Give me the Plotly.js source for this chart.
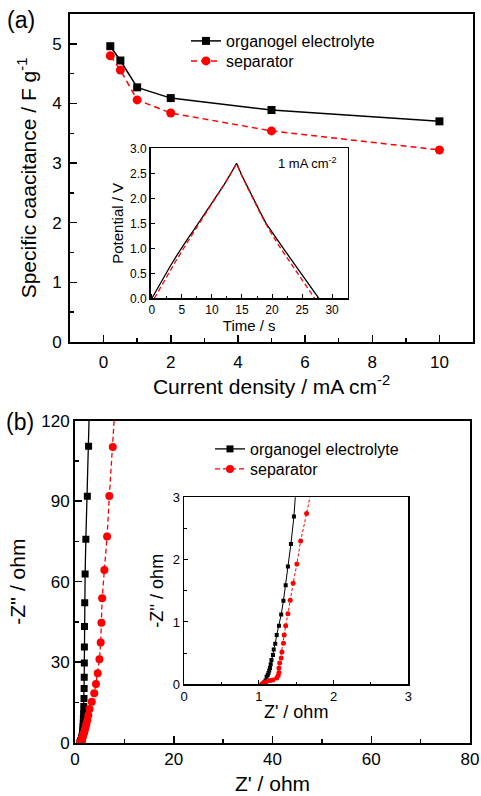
<!DOCTYPE html>
<html>
<head>
<meta charset="utf-8">
<script src="https://cdn.plot.ly/plotly-3.0.1.min.js"></script>
<style>html,body{margin:0;padding:0;background:#fff;}#chart{width:481px;height:796px;}</style>
</head>
<body>
<div id="chart"></div>
<script>
// ---- Panel (a): specific capacitance vs current density ----
const currentDensity = [0.2, 0.5, 1, 2, 5, 10];
const capOrganogel = [4.96, 4.72, 4.27, 4.09, 3.89, 3.70];
const capSeparator = [4.80, 4.56, 4.06, 3.84, 3.54, 3.22];

// ---- Panel (a) inset: galvanostatic charge/discharge at 1 mA cm-2 ----
const gcdTimeOrganogel = [0, 1, 2, 3, 4, 5, 6, 7, 8, 9, 10, 11, 12, 13, 14.1, 15, 16, 17, 18, 19, 20, 21, 22, 23, 24, 25, 26, 27, 27.8];
const gcdVOrganogel = [0, 0.22, 0.43, 0.63, 0.83, 1.02, 1.20, 1.37, 1.55, 1.72, 1.90, 2.08, 2.27, 2.47, 2.70, 2.45, 2.20, 1.96, 1.73, 1.50, 1.32, 1.15, 0.98, 0.81, 0.64, 0.47, 0.31, 0.14, 0];
const gcdTimeSeparator = [0.4, 1, 2, 3, 4, 5, 6, 7, 8, 9, 10, 11, 12, 13, 14.1, 15, 16, 17, 18, 19, 20, 21, 22, 23, 24, 25, 26, 27.1];
const gcdVSeparator = [0, 0.12, 0.33, 0.54, 0.75, 0.95, 1.14, 1.33, 1.52, 1.70, 1.89, 2.08, 2.27, 2.47, 2.69, 2.44, 2.19, 1.95, 1.71, 1.48, 1.27, 1.08, 0.90, 0.72, 0.54, 0.36, 0.19, 0];

// ---- Panel (b): Nyquist plots ----
const zReOrganogel = [1.04, 1.07, 1.09, 1.105, 1.12, 1.13, 1.14, 1.15, 1.16, 1.17, 1.19, 1.20, 1.22, 1.24, 1.27, 1.30, 1.33, 1.36, 1.39, 1.43, 1.47, 1.52, 1.56, 1.60, 1.63, 1.67, 1.70, 1.74, 1.78, 1.82, 1.85, 1.87, 1.89, 1.90, 1.92, 1.97, 2.05, 2.20, 2.50, 2.75, 3.00];
const zImOrganogel = [0, 0.03, 0.06, 0.12, 0.15, 0.18, 0.22, 0.26, 0.32, 0.39, 0.47, 0.56, 0.65, 0.79, 0.94, 1.12, 1.34, 1.59, 1.89, 2.25, 2.69, 3.3, 4.0, 4.9, 6.0, 7.3, 8.9, 10.9, 13.5, 16.5, 20.2, 24.4, 29.7, 35.7, 43.3, 52.2, 62.9, 75.8, 91.8, 110.5, 131];
const zReSeparator = [1.04, 1.06, 1.10, 1.15, 1.19, 1.24, 1.26, 1.27, 1.27, 1.28, 1.30, 1.31, 1.33, 1.34, 1.36, 1.39, 1.42, 1.46, 1.51, 1.56, 1.64, 1.75, 1.88, 2.00, 2.15, 2.30, 2.50, 2.70, 2.95, 3.40, 3.90, 4.25, 4.60, 4.95, 5.20, 5.35, 5.50, 5.95, 6.50, 6.95, 7.65, 8.30];
const zImSeparator = [0, 0.02, 0.04, 0.06, 0.07, 0.10, 0.14, 0.19, 0.26, 0.34, 0.42, 0.52, 0.66, 0.79, 0.94, 1.13, 1.35, 1.62, 1.93, 2.30, 2.74, 3.3, 4.0, 4.8, 5.8, 7.0, 8.4, 10.2, 12.6, 15.3, 18.4, 21.9, 25.9, 31.1, 37.3, 44.7, 53.8, 64.4, 76.8, 91.9, 110.2, 131];

const seriesNames = ['organogel electrolyte', 'separator'];

const W = 481, H = 796;
const px = v => v / W;
const py = v => 1 - v / H;
const FONT = '"Liberation Sans", Arial, sans-serif';
const BLACK = '#000000', RED = '#ff0000';

const traces = [
  // (a) main
  {x: currentDensity, y: capOrganogel, xaxis: 'x', yaxis: 'y', name: seriesNames[0], mode: 'lines+markers',
   line: {color: BLACK, width: 1.5}, marker: {symbol: 'square', size: 8, color: BLACK}, legend: 'legend'},
  {x: currentDensity, y: capSeparator, xaxis: 'x', yaxis: 'y', name: seriesNames[1], mode: 'lines+markers',
   line: {color: RED, width: 1.5, dash: '6px,4px'}, marker: {symbol: 'circle', size: 9, color: RED}, legend: 'legend2'},
  // (a) inset
  {x: gcdTimeOrganogel, y: gcdVOrganogel, xaxis: 'x2', yaxis: 'y2', mode: 'lines', showlegend: false,
   line: {color: BLACK, width: 1.3}},
  {x: gcdTimeSeparator, y: gcdVSeparator, xaxis: 'x2', yaxis: 'y2', mode: 'lines', showlegend: false,
   line: {color: RED, width: 1.3, dash: '5px,3px'}},
  // (b) main
  {x: zReOrganogel, y: zImOrganogel, xaxis: 'x3', yaxis: 'y3', name: seriesNames[0], mode: 'lines+markers',
   line: {color: BLACK, width: 1.3}, marker: {symbol: 'square', size: 7, color: BLACK}, legend: 'legend3'},
  {x: zReSeparator, y: zImSeparator, xaxis: 'x3', yaxis: 'y3', name: seriesNames[1], mode: 'lines+markers',
   line: {color: RED, width: 1.3, dash: '5px,3px'}, marker: {symbol: 'circle', size: 8, color: RED}, legend: 'legend4'},
  // (b) inset
  {x: zReOrganogel, y: zImOrganogel, xaxis: 'x4', yaxis: 'y4', mode: 'lines+markers', showlegend: false,
   line: {color: BLACK, width: 1}, marker: {symbol: 'square', size: 4, color: BLACK}},
  {x: zReSeparator, y: zImSeparator, xaxis: 'x4', yaxis: 'y4', mode: 'lines+markers', showlegend: false,
   line: {color: RED, width: 1, dash: '3px,2px'}, marker: {symbol: 'circle', size: 5, color: RED}}
];

function ax(opts) {
  const base = {
    showline: true, linecolor: '#000', linewidth: 2, mirror: true,
    ticks: 'inside', ticklen: 7, tickwidth: 1.5, tickcolor: '#000',
    showgrid: false, zeroline: false, autorange: false, fixedrange: true,
    tickfont: {family: FONT, size: 17, color: '#000'}
  };
  return Object.assign(base, opts);
}
const minorMain = d => ({ticks: 'inside', ticklen: 4, tickwidth: 1.5, tickcolor: '#000', dtick: d, showgrid: false});
const minorInset = d => ({ticks: 'inside', ticklen: 2.5, tickwidth: 1, tickcolor: '#000', dtick: d, showgrid: false});

function leg(x, yTop) {
  return {x: px(x), y: py(yTop), xanchor: 'left', yanchor: 'top', bgcolor: 'rgba(0,0,0,0)',
    font: {family: FONT, size: 16, color: '#000'}, itemwidth: 30, tracegroupgap: 0};
}

const layout = {
  width: W, height: H,
  margin: {l: 0, r: 0, t: 0, b: 0},
  paper_bgcolor: '#fff', plot_bgcolor: 'rgba(0,0,0,0)',
  font: {family: FONT, color: '#000'},
  xaxis: ax({domain: [px(70), px(473)], range: [-1, 11], anchor: 'y', dtick: 2, tick0: 0,
    ticklabelstandoff: 4, minor: minorMain(1),
    title: {text: 'Current density / mA cm<sup>-2</sup>', font: {family: FONT, size: 21}, standoff: 6}}),
  yaxis: ax({domain: [py(342), py(14)], range: [0, 5.5], anchor: 'x', dtick: 1, tick0: 0,
    ticklabelstandoff: 3, minor: minorMain(0.5),
    title: {text: 'Specific caacitance / F g<sup>-1</sup>', font: {family: FONT, size: 21}, standoff: 10}}),
  xaxis2: ax({domain: [px(150.7), px(347.7)], range: [-0.2, 32.6], anchor: 'y2', dtick: 5, tick0: 0, linewidth: 1.5,
    ticklen: 4, tickwidth: 1, tickfont: {family: FONT, size: 12}, minor: minorInset(2.5),
    title: {text: 'Time / s', font: {family: FONT, size: 15}, standoff: 2}}),
  yaxis2: ax({domain: [py(298.3), py(148.3)], range: [0, 3], anchor: 'x2', dtick: 0.5, tick0: 0, linewidth: 1.5,
    ticklen: 4, tickwidth: 1, tickfont: {family: FONT, size: 12}, tickformat: '.1f',
    title: {text: 'Potential / V', font: {family: FONT, size: 15}, standoff: 3}}),
  xaxis3: ax({domain: [px(75), px(470)], range: [0, 80], anchor: 'y3', dtick: 20, tick0: 0,
    minor: minorMain(10),
    title: {text: "Z' / ohm", font: {family: FONT, size: 21}, standoff: 8}}),
  yaxis3: ax({domain: [py(742.7), py(420.7)], range: [0, 120], anchor: 'x3', dtick: 30, tick0: 0,
    minor: minorMain(15),
    title: {text: "-Z'' / ohm", font: {family: FONT, size: 21}, standoff: 10}}),
  xaxis4: ax({domain: [px(184), px(408.3)], range: [0, 3], anchor: 'y4', dtick: 1, tick0: 0, linewidth: 1.5,
    ticklen: 4, tickwidth: 1, tickfont: {family: FONT, size: 13}, minor: minorInset(0.5),
    title: {text: "Z' / ohm", font: {family: FONT, size: 18}, standoff: 2}}),
  yaxis4: ax({domain: [py(684.3), py(497.3)], range: [0, 3], anchor: 'x4', dtick: 1, tick0: 0, linewidth: 1.5,
    ticklen: 4, tickwidth: 1, tickfont: {family: FONT, size: 13}, minor: minorInset(0.5),
    title: {text: "-Z'' / ohm", font: {family: FONT, size: 18}, standoff: 4}}),
  legend: leg(186, 24),
  legend2: leg(186, 44),
  legend3: leg(210, 432),
  legend4: leg(210, 452),
  annotations: [
    {text: '(a)', xref: 'paper', yref: 'paper', x: px(5), y: py(20), xanchor: 'left', yanchor: 'middle',
     showarrow: false, font: {family: FONT, size: 23, color: '#000'}},
    {text: '(b)', xref: 'paper', yref: 'paper', x: px(4), y: py(422), xanchor: 'left', yanchor: 'middle',
     showarrow: false, font: {family: FONT, size: 23, color: '#000'}},
    {text: '1 mA cm<sup>-2</sup>', xref: 'paper', yref: 'paper', x: px(339), y: py(163), xanchor: 'right', yanchor: 'middle',
     showarrow: false, font: {family: FONT, size: 13, color: '#000'}}
  ],
  showlegend: true
};

Plotly.newPlot('chart', traces, layout, {staticPlot: true, displayModeBar: false});
</script>
</body>
</html>
